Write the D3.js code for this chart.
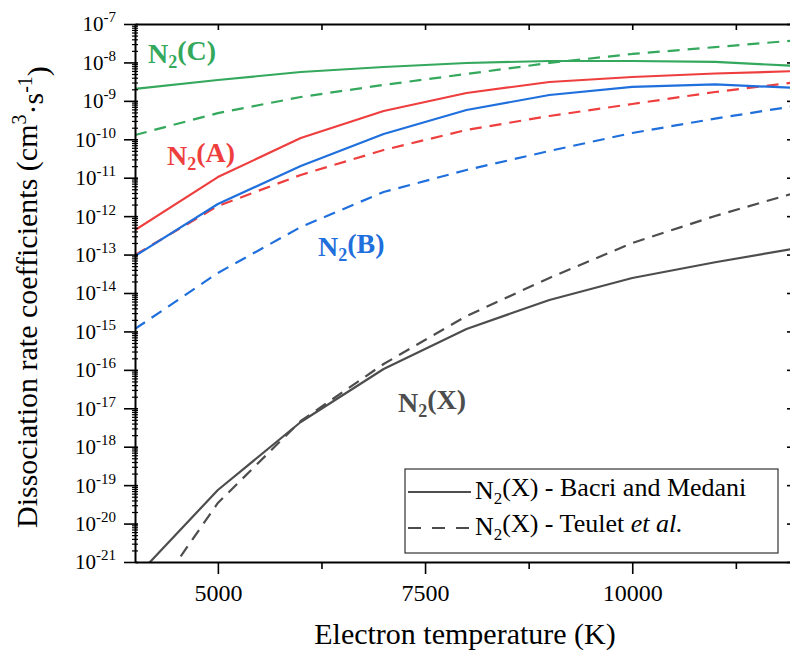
<!DOCTYPE html>
<html>
<head>
<meta charset="utf-8">
<script src="https://cdn.jsdelivr.net/npm/d3@7"></script>
</head>
<body style="margin:0">
<svg width="790" height="651"></svg>
<script>
// ---------------- data ----------------
const temperatures = [4000, 5000, 6000, 7000, 8000, 9000, 10000, 11000, 12000];

const n2C_bacri  = [2.04e-9, 3.49e-9, 5.64e-9, 7.6e-9, 9.66e-9, 1.09e-8, 1.09e-8, 1.03e-8, 8.07e-9];
const n2C_teulet = [1.29e-10, 4.8e-10, 1.26e-9, 2.6e-9, 5.0e-9, 9.7e-9, 1.66e-8, 2.5e-8, 3.8e-8];
const n2A_bacri  = [4.36e-13, 1.04e-11, 1.08e-10, 5.45e-10, 1.6e-9, 3.1e-9, 4.18e-9, 5.15e-9, 5.98e-9];
const n2A_teulet = [9.75e-14, 1.84e-12, 1.18e-11, 5.26e-11, 1.75e-10, 4.04e-10, 8.28e-10, 1.7e-9, 3.1e-9];
const n2B_bacri  = [9.2e-14, 2.07e-12, 2.02e-11, 1.37e-10, 5.78e-10, 1.42e-9, 2.3e-9, 2.67e-9, 2.16e-9];
const n2B_teulet = [1.16e-15, 3.32e-14, 5.22e-13, 4.25e-12, 1.59e-11, 4.96e-11, 1.46e-10, 3.45e-10, 7.57e-10];
const n2X_bacri  = [3.84e-22, 7.48e-20, 4.4e-18, 1.05e-16, 1.16e-15, 6.58e-15, 2.46e-14, 6.3e-14, 1.48e-13];
const n2X_teulet = [2.75e-23, 3.44e-20, 4.67e-18, 1.42e-16, 2.52e-15, 2.46e-14, 2.0e-13, 1.01e-12, 4.25e-12];

const xTickValues = [5000, 7500, 10000];
const xMinorTicks = [6250, 8750, 11250];
const yExponents = [-7, -8, -9, -10, -11, -12, -13, -14, -15, -16, -17, -18, -19, -20, -21];

const legendLabels = ["N2(X) - Bacri and Medani", "N2(X) - Teulet et al."];

// ---------------- layout ----------------
const FONT = "Liberation Serif";
const svg = d3.select("svg");
const pLeft = 135, pRight = 798, pTop = 24, pBottom = 562;

const x = d3.scaleLinear().domain([4000, 12000]).range([pLeft, pRight]);
const y = d3.scaleLog().domain([1e-21, 1e-7]).range([pBottom, pTop]);

const colors = { C: "#34a85c", A: "#ee3e3e", B: "#1f6fdd", X: "#4d4d4d" };

const series = [
  { v: n2C_bacri,  c: colors.C, dash: null },
  { v: n2C_teulet, c: colors.C, dash: "12,8" },
  { v: n2A_bacri,  c: colors.A, dash: null },
  { v: n2A_teulet, c: colors.A, dash: "12,8" },
  { v: n2B_bacri,  c: colors.B, dash: null },
  { v: n2B_teulet, c: colors.B, dash: "12,8" },
  { v: n2X_bacri,  c: colors.X, dash: null },
  { v: n2X_teulet, c: colors.X, dash: "12,8" }
];

svg.append("defs").append("clipPath").attr("id", "plotclip")
  .append("rect").attr("x", pLeft).attr("y", pTop)
  .attr("width", pRight - pLeft).attr("height", pBottom - pTop);

const line = d3.line().x((d, i) => x(temperatures[i])).y(d => y(d));

const gLines = svg.append("g").attr("clip-path", "url(#plotclip)");
series.forEach(s => {
  gLines.append("path")
    .attr("d", line(s.v))
    .attr("fill", "none")
    .attr("stroke", s.c)
    .attr("stroke-width", 2.2)
    .attr("stroke-dasharray", s.dash)
    .attr("stroke-linejoin", "round");
});

// ---------------- axes ----------------
const axisColor = "#000";
function styleAxis(g) {
  g.attr("font-family", FONT);
  g.selectAll(".domain").attr("stroke", axisColor).attr("stroke-width", 2);
  g.selectAll(".tick line").attr("stroke", axisColor).attr("stroke-width", 1.6);
}

// bottom major
const gBottom = svg.append("g").attr("transform", `translate(0,${pBottom})`)
  .call(d3.axisBottom(x).tickValues(xTickValues).tickSizeInner(12).tickSizeOuter(0).tickFormat(d3.format("d")));
gBottom.selectAll("text").attr("y", 39).attr("dy", 0)
  .attr("font-size", 24).attr("fill", "#000");
styleAxis(gBottom);
// bottom minor
const gBottomMinor = svg.append("g").attr("transform", `translate(0,${pBottom})`)
  .call(d3.axisBottom(x).tickValues(xMinorTicks).tickSizeInner(7).tickSizeOuter(0).tickFormat(""));
gBottomMinor.select(".domain").remove();
styleAxis(gBottomMinor);

// top
const gTop = svg.append("g").attr("transform", `translate(0,${pTop})`)
  .call(d3.axisTop(x).tickValues(xTickValues.concat(xMinorTicks)).tickSizeInner(-6).tickSizeOuter(0).tickFormat(""));
styleAxis(gTop);

// left major
const majorVals = yExponents.map(e => Math.pow(10, e));
const gLeft = svg.append("g").attr("transform", `translate(${pLeft},0)`)
  .call(d3.axisLeft(y).tickValues(majorVals).tickSizeInner(11).tickSizeOuter(0).tickPadding(8).tickFormat(() => ""));
gLeft.selectAll(".tick line").attr("x2", -11).attr("x1", 3);
gLeft.selectAll(".tick").each(function(d) {
  const e = Math.round(Math.log10(d));
  const t = d3.select(this).select("text")
    .attr("font-size", 21).attr("fill", "#000").attr("dy", "0.33em").attr("x", -19);
  t.text(null);
  t.append("tspan").text("10");
  t.append("tspan").attr("font-size", 15).attr("dy", "-0.6em").text(String(e));
});
styleAxis(gLeft);

// left minor
const minorVals = [];
for (let e = -21; e < -7; e++) for (let k = 2; k <= 9; k++) minorVals.push(k * Math.pow(10, e));
const gLeftMinor = svg.append("g").attr("transform", `translate(${pLeft},0)`)
  .call(d3.axisLeft(y).tickValues(minorVals).tickSizeInner(3).tickSizeOuter(0).tickFormat(""));
gLeftMinor.select(".domain").remove();
gLeftMinor.selectAll(".tick line").attr("x1", 3).attr("x2", -3);
styleAxis(gLeftMinor);
gLeftMinor.selectAll(".tick line").attr("stroke-width", 1.2);

// right
const gRight = svg.append("g").attr("transform", `translate(${pRight},0)`)
  .call(d3.axisRight(y).tickValues(majorVals).tickSizeInner(-11).tickSizeOuter(0).tickFormat(""));
styleAxis(gRight);

// ---------------- axis titles ----------------
svg.append("text")
  .attr("x", 465).attr("y", 644)
  .attr("text-anchor", "middle").attr("font-size", 30).attr("fill", "#000")
  .text("Electron temperature (K)");

const yt = svg.append("text")
  .attr("transform", "translate(37,528) rotate(-90)")
  .attr("text-anchor", "start").attr("font-size", 30).attr("fill", "#000");
yt.append("tspan").text("Dissociation rate coefficients (cm");
yt.append("tspan").attr("font-size", 20).attr("dy", "-0.55em").text("3");
yt.append("tspan").attr("dy", "0.55em").text("·s");
yt.append("tspan").attr("font-size", 20).attr("dy", "-0.55em").text("-1");
yt.append("tspan").attr("dy", "0.55em").text(")");

// ---------------- curve labels ----------------
function speciesLabel(xp, yp, state, color) {
  const t = svg.append("text").attr("x", xp).attr("y", yp)
    .attr("font-size", 28).attr("font-weight", "bold").attr("fill", color);
  t.append("tspan").text("N");
  t.append("tspan").attr("font-size", 18).attr("dy", "0.3em").text("2");
  t.append("tspan").attr("dy", "-0.3em").text("(" + state + ")");
}
speciesLabel(148, 63, "C", colors.C);
speciesLabel(167, 165, "A", colors.A);
speciesLabel(318, 256, "B", colors.B);
speciesLabel(398, 412, "X", colors.X);

// ---------------- legend ----------------
const lg = svg.append("g");
lg.append("rect").attr("x", 405).attr("y", 469).attr("width", 373).attr("height", 84)
  .attr("fill", "#fff").attr("stroke", "#333").attr("stroke-width", 1.2);
const legendRows = [
  { label: legendLabels[0], dash: null, yy: 492 },
  { label: legendLabels[1], dash: "13,11", yy: 528 }
];
legendRows.forEach((r, i) => {
  lg.append("line").attr("x1", 408).attr("x2", 471).attr("y1", r.yy).attr("y2", r.yy)
    .attr("stroke", colors.X).attr("stroke-width", 2.2).attr("stroke-dasharray", r.dash);
  const t = lg.append("text").attr("x", 475).attr("y", r.yy + 7)
    .attr("font-size", 26).attr("fill", "#000");
  t.append("tspan").text("N");
  t.append("tspan").attr("font-size", 17).attr("dy", "0.3em").text("2");
  if (i === 0) {
    t.append("tspan").attr("dy", "-0.3em").text("(X) - Bacri and Medani");
  } else {
    t.append("tspan").attr("dy", "-0.3em").text("(X) - Teulet ");
    t.append("tspan").attr("font-style", "italic").text("et al.");
  }
});

// serif font on every text
svg.selectAll("text").attr("font-family", FONT);
</script>
</body>
</html>
